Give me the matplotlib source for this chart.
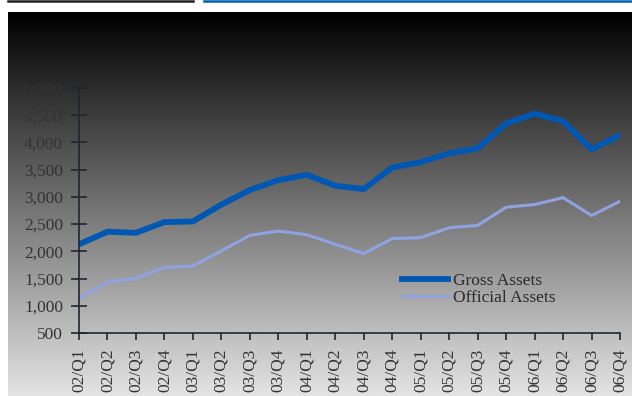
import numpy as np
import matplotlib
matplotlib.use("Agg")
import matplotlib.pyplot as plt
from matplotlib.lines import Line2D

quarters = ["02/Q1", "02/Q2", "02/Q3", "02/Q4", "03/Q1", "03/Q2", "03/Q3", "03/Q4",
            "04/Q1", "04/Q2", "04/Q3", "04/Q4", "05/Q1", "05/Q2", "05/Q3", "05/Q4",
            "06/Q1", "06/Q2", "06/Q3", "06/Q4"]
gross = [2130, 2360, 2340, 2537, 2549, 2859, 3126, 3308, 3406, 3205,
         3144, 3540, 3637, 3801, 3892, 4348, 4530, 4391, 3874, 4135]
official = [1138, 1436, 1503, 1704, 1728, 2008, 2293, 2372, 2305, 2129,
            1959, 2233, 2251, 2433, 2476, 2810, 2859, 2986, 2658, 2919]
yticks = [500, 1000, 1500, 2000, 2500, 3000, 3500, 4000, 4500, 5000]

plt.rcParams['font.family'] = ['Liberation Serif', 'DejaVu Serif']

W, H = 632, 396
fig = plt.figure(figsize=(W / 100, H / 100), dpi=100)
fig.patch.set_facecolor('white')

# gradient panel
bg = fig.add_axes([8 / W, 0, 1 - 8 / W, (H - 12) / H])
grad = np.linspace(0.0, 0.89, 256).reshape(-1, 1)
bg.imshow(grad, aspect='auto', cmap='gray', vmin=0, vmax=1, extent=[0, 1, 1, 0])
bg.set_axis_off()

# top strip
fig.add_artist(Line2D([8 / W, 193 / W], [1 - 1 / H, 1 - 1 / H], color='#231f20', lw=1.8))
fig.add_artist(Line2D([204 / W, 1], [1 - 1 / H, 1 - 1 / H], color='#0060b0', lw=1.8))

ax = fig.add_axes([79 / W, (H - 333) / H, (620 - 79) / W, (333 - 88) / H])
ax.patch.set_alpha(0)
x = np.arange(len(quarters))
ax.plot(x, gross, color='#0058b4', lw=4.2, solid_joinstyle='miter', label='Gross Assets')
ax.plot(x, official, color='#8fa3e2', lw=2.2, label='Official Assets')

ax.set_xlim(0, len(quarters) - 1)
ax.set_ylim(500, 5000)
ax.set_yticks(yticks)
ax.set_yticklabels([f"{v:,}" for v in yticks])
ax.set_xticks(x)
ax.set_xticklabels(quarters, rotation=90)

for s in ['top', 'right']:
    ax.spines[s].set_visible(False)
for s in ['left', 'bottom']:
    ax.spines[s].set_color('#1e2533')
    ax.spines[s].set_linewidth(1.2)
ax.tick_params(axis='y', direction='inout', length=11, width=1.2, color='#1e2533',
               labelsize=12.5, labelcolor='#333333', pad=6)
ax.tick_params(axis='x', direction='out', length=5, width=1.2, color='#1e2533',
               labelsize=12.5, labelcolor='#333333', pad=6)

leg = ax.legend(loc='upper left', bbox_to_anchor=(402 / W, (H - 273) / H),
                bbox_transform=fig.transFigure, frameon=False, fontsize=12.5,
                handlelength=2.65, handletextpad=0.3, labelspacing=0.05,
                borderaxespad=0, borderpad=0)
for t in leg.get_texts():
    t.set_color('#2a2a2a')

fig.savefig('out.png', dpi=100)
